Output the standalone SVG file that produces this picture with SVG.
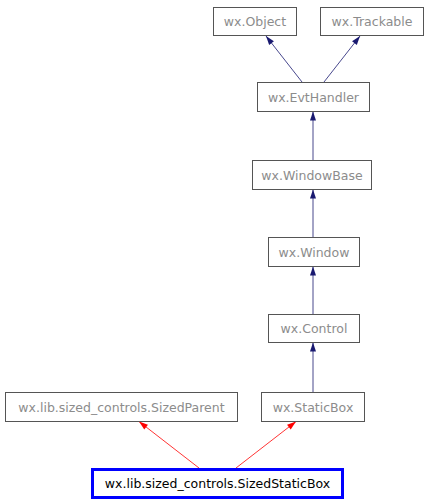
<svg xmlns="http://www.w3.org/2000/svg" width="429" height="504" viewBox="0 0 429 504">
<style>
.box{fill:#fff;stroke:#555;stroke-width:1}
.lbl{font-family:"DejaVu Sans",sans-serif;font-size:12.5px;fill:#8c8c8c;text-anchor:middle}
.blue{stroke:#191970;stroke-width:0.8;fill:none}
.red{stroke:#ff0000;stroke-width:0.8;fill:none}
</style>
<defs>
<marker id="ab" markerUnits="userSpaceOnUse" markerWidth="10" markerHeight="10" viewBox="0 0 10 10" refX="10" refY="5" orient="auto">
<path d="M1,2 L10,5 L1,8 z" fill="#191970"/>
</marker>
<marker id="ar" markerUnits="userSpaceOnUse" markerWidth="10" markerHeight="10" viewBox="0 0 10 10" refX="10" refY="5" orient="auto">
<path d="M1,2 L10,5 L1,8 z" fill="#ff0000"/>
</marker>
</defs>
<g id="connectors">
<line class="blue" x1="302" y1="82" x2="266" y2="36" marker-end="url(#ab)"/>
<line class="blue" x1="324" y1="82" x2="360" y2="36" marker-end="url(#ab)"/>
<line class="blue" x1="313" y1="160" x2="313" y2="111.5" marker-end="url(#ab)"/>
<line class="blue" x1="313" y1="237" x2="313" y2="189.5" marker-end="url(#ab)"/>
<line class="blue" x1="313" y1="314" x2="313" y2="266.5" marker-end="url(#ab)"/>
<line class="blue" x1="313" y1="392" x2="313" y2="342.5" marker-end="url(#ab)"/>
<line class="red" x1="199" y1="468" x2="139" y2="421.5" marker-end="url(#ar)"/>
<line class="red" x1="236" y1="468" x2="296" y2="421.5" marker-end="url(#ar)"/>
</g>
<g id="wx.Object"><rect class="box" x="213.5" y="7.5" width="83" height="28"/><text class="lbl" x="255" y="26">wx.Object</text></g>
<g id="wx.Trackable"><rect class="box" x="320.5" y="7.5" width="103" height="28"/><text class="lbl" x="372" y="26">wx.Trackable</text></g>
<g id="wx.EvtHandler"><rect class="box" x="257.5" y="82.5" width="112" height="29"/><text class="lbl" x="313.5" y="101.5">wx.EvtHandler</text></g>
<g id="wx.WindowBase"><rect class="box" x="252.5" y="160.5" width="119" height="29"/><text class="lbl" x="312" y="179.5">wx.WindowBase</text></g>
<g id="wx.Window"><rect class="box" x="268.5" y="237.5" width="91" height="29"/><text class="lbl" x="314" y="256.5">wx.Window</text></g>
<g id="wx.Control"><rect class="box" x="268.5" y="314.5" width="91" height="28"/><text class="lbl" x="314" y="333">wx.Control</text></g>
<g id="wx.lib.sized_controls.SizedParent"><rect class="box" x="5.5" y="392.5" width="232" height="29"/><text class="lbl" x="121.5" y="411.5">wx.lib.sized_controls.SizedParent</text></g>
<g id="wx.StaticBox"><rect class="box" x="261.5" y="392.5" width="103" height="29"/><text class="lbl" x="313" y="411.5">wx.StaticBox</text></g>
<g id="wx.lib.sized_controls.SizedStaticBox"><rect x="92.5" y="469.5" width="250" height="28" fill="#fff" stroke="#0000ff" stroke-width="3"/><text class="lbl" x="217.5" y="488" style="fill:#000">wx.lib.sized_controls.SizedStaticBox</text></g>
</svg>
